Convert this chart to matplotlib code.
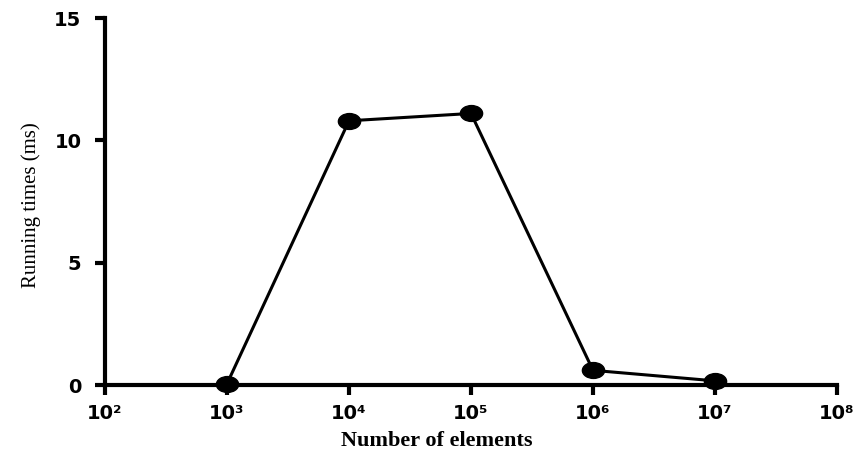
import matplotlib
matplotlib.use('Agg')
import matplotlib.pyplot as plt
import numpy as np
from matplotlib.path import Path

# data
n_elements = [1e3, 1e4, 1e5, 1e6, 1e7]
run_times = [0.05, 10.8, 11.1, 0.6, 0.17]

x_ticks = [1e2, 1e3, 1e4, 1e5, 1e6, 1e7, 1e8]
x_tick_labels = ['10²', '10³', '10⁴', '10⁵', '10⁶', '10⁷', '10⁸']
y_ticks = [0, 5, 10, 15]

# wide ellipse marker (the original looks stretched horizontally)
circ = Path.unit_circle()
ellipse = Path(circ.vertices * np.array([1.4, 1.0]), circ.codes)

fig = plt.figure(figsize=(8.62, 4.51), dpi=100)
ax = fig.add_axes([0.1218, 0.1463, 0.8492, 0.8137])

ax.plot(n_elements, run_times, color='black', lw=2.2, marker=ellipse,
        markersize=16, zorder=5, clip_on=False)

ax.set_xscale('log')
ax.set_xlim(1e2, 1e8)
ax.set_ylim(0, 15)
ax.set_xticks(x_ticks)
ax.set_xticklabels(x_tick_labels)
ax.xaxis.set_minor_locator(matplotlib.ticker.NullLocator())
ax.set_yticks(y_ticks)

for side in ['top', 'right']:
    ax.spines[side].set_visible(False)
for side in ['left', 'bottom']:
    ax.spines[side].set_linewidth(3)

ax.tick_params(axis='both', which='major', direction='out', length=7,
               width=3, labelsize=14)
ax.tick_params(axis='x', pad=7)
ax.tick_params(axis='y', pad=10)
for lab in ax.get_xticklabels() + ax.get_yticklabels():
    lab.set_fontweight('bold')
    lab.set_family('DejaVu Sans')

ax.set_xlabel('Number of elements', family='Liberation Serif',
              fontweight='bold', fontsize=16)
ax.xaxis.set_label_coords(0.4536, -0.125)
ax.set_ylabel('Running times (ms)', family='Liberation Serif', fontsize=15)
ax.yaxis.set_label_coords(-0.088, 0.49)

plt.savefig('out.png', dpi=100)
